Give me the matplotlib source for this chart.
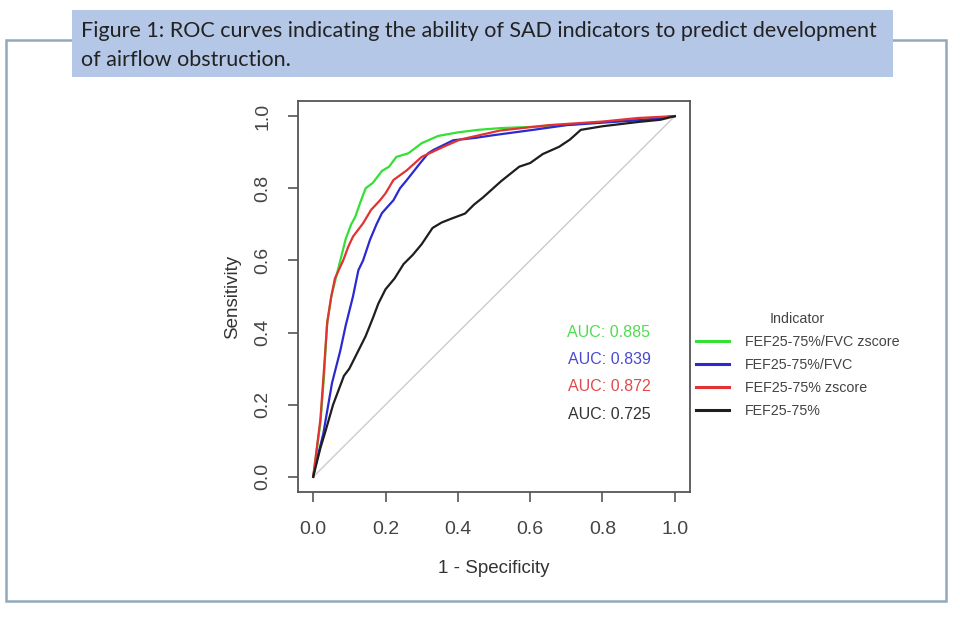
import matplotlib
matplotlib.use('Agg')
import matplotlib.pyplot as plt
from matplotlib.patches import Rectangle

# ROC curve points (1 - specificity, sensitivity)
fpr_fvc_z = [0, 0.01, 0.02, 0.03, 0.038, 0.05, 0.075, 0.09, 0.105, 0.116, 0.13, 0.145, 0.165,
             0.19, 0.21, 0.23, 0.263, 0.3, 0.345, 0.4, 0.456, 0.52, 0.65, 0.79, 0.9, 1.0]
tpr_fvc_z = [0, 0.075, 0.15, 0.28, 0.42, 0.5, 0.6, 0.66, 0.7, 0.72, 0.76, 0.8, 0.815,
             0.848, 0.86, 0.887, 0.897, 0.925, 0.945, 0.955, 0.962, 0.967, 0.972, 0.983, 0.99, 1.0]

fpr_fvc = [0, 0.006, 0.028, 0.052, 0.075, 0.09, 0.11, 0.125, 0.138, 0.157, 0.175, 0.19, 0.222,
           0.24, 0.259, 0.296, 0.318, 0.332, 0.387, 0.45, 0.497, 0.608, 0.7, 0.83, 0.92, 1.0]
tpr_fvc = [0, 0.03, 0.12, 0.26, 0.35, 0.42, 0.5, 0.573, 0.6, 0.657, 0.7, 0.731, 0.767,
           0.8, 0.823, 0.87, 0.897, 0.906, 0.933, 0.94, 0.947, 0.962, 0.975, 0.984, 0.99, 1.0]

fpr_z = [0, 0.01, 0.02, 0.03, 0.039, 0.05, 0.06, 0.083, 0.097, 0.11, 0.138, 0.16, 0.185,
         0.2, 0.222, 0.259, 0.3, 0.36, 0.406, 0.516, 0.65, 0.8, 0.9, 1.0]
tpr_z = [0, 0.08, 0.16, 0.3, 0.43, 0.5, 0.55, 0.6, 0.638, 0.666, 0.703, 0.74, 0.767,
         0.786, 0.823, 0.85, 0.887, 0.915, 0.935, 0.96, 0.975, 0.985, 0.995, 1.0]

fpr_raw = [0, 0.02, 0.035, 0.055, 0.07, 0.085, 0.1, 0.125, 0.145, 0.165, 0.18, 0.2, 0.225,
           0.25, 0.275, 0.3, 0.33, 0.355, 0.38, 0.42, 0.445, 0.47, 0.52, 0.57, 0.6, 0.635,
           0.68, 0.71, 0.74, 0.8, 0.9, 0.96, 1.0]
tpr_raw = [0, 0.08, 0.13, 0.2, 0.24, 0.28, 0.3, 0.35, 0.39, 0.44, 0.48, 0.52, 0.55,
           0.59, 0.615, 0.645, 0.69, 0.705, 0.715, 0.73, 0.755, 0.775, 0.82, 0.86, 0.87, 0.895,
           0.915, 0.935, 0.962, 0.972, 0.984, 0.99, 1.0]

labels = ['FEF25-75%/FVC zscore', 'FEF25-75%/FVC', 'FEF25-75% zscore', 'FEF25-75%']
aucs = [0.885, 0.839, 0.872, 0.725]
line_colors = ['#33e033', '#2a2ad0', '#e23232', '#1e1e1e']
text_colors = ['#4fdc4f', '#4a4ad0', '#e04a4a', '#333333']

fig = plt.figure(figsize=(9.6, 6.17), dpi=100)
W, H = 960, 617

def fx(px):
    return px / W

def fy(py):
    return 1 - py / H

# outer frame and caption box
fig.patches.append(Rectangle((fx(6), fy(601)), fx(946) - fx(6), fy(40) - fy(601),
                             transform=fig.transFigure, fill=False,
                             edgecolor='#93a8b8', linewidth=1.8, zorder=0))
fig.patches.append(Rectangle((fx(72), fy(77)), fx(893) - fx(72), fy(10) - fy(77),
                             transform=fig.transFigure, facecolor='#b4c7e7',
                             edgecolor='none', zorder=1))
fig.text(fx(81), fy(31), 'Figure 1: ROC curves indicating the ability of SAD indicators to predict development',
         fontsize=15.5, family='Lato', color='#222222', va='center', ha='left', zorder=2)
fig.text(fx(81), fy(60), 'of airflow obstruction.',
         fontsize=15.5, family='Lato', color='#222222', va='center', ha='left', zorder=2)

ax = fig.add_axes([fx(298), fy(492), fx(690) - fx(298), fy(101) - fy(492)])
ax.set_xlim(-0.042, 1.042)
ax.set_ylim(-0.042, 1.042)

ax.plot([0, 1], [0, 1], color='#cccccc', linewidth=1.0)

curves = [(fpr_fvc_z, tpr_fvc_z), (fpr_fvc, tpr_fvc), (fpr_z, tpr_z), (fpr_raw, tpr_raw)]
handles = []
for (xs, ys), col, lab in zip(curves, line_colors, labels):
    h, = ax.plot(xs, ys, color=col, linewidth=1.6, label=lab)
    handles.append(h)

# AUC annotations
auc_y = [0.399, 0.324, 0.25, 0.172]
for a, yy, col in zip(aucs, auc_y, text_colors):
    ax.text(0.818, yy, f'AUC: {a:.3f}', color=col, fontsize=11.5, ha='center', va='center',
            family='Liberation Sans')

ticks = [0.0, 0.2, 0.4, 0.6, 0.8, 1.0]
ax.set_xticks(ticks)
ax.set_yticks(ticks)
ax.set_xticklabels([f'{t:.1f}' for t in ticks])
ax.set_yticklabels([f'{t:.1f}' for t in ticks], rotation=90, va='center')
ax.tick_params(axis='both', colors='#555555', labelcolor='#444444', length=7, width=1.2,
               labelsize=14)
ax.tick_params(axis='x', pad=14)
ax.tick_params(axis='y', pad=12)
for lab in ax.get_xticklabels() + ax.get_yticklabels():
    lab.set_family('Liberation Sans')
for s in ax.spines.values():
    s.set_color('#555555')
    s.set_linewidth(1.3)

ax.set_xlabel('1 - Specificity', fontsize=13.5, color='#333333', family='Liberation Sans',
              labelpad=16)
ax.set_ylabel('Sensitivity', fontsize=13.5, color='#333333', family='Liberation Sans',
              labelpad=10)

leg = fig.legend(handles=handles, labels=labels, title='Indicator', loc='upper left',
                 bbox_to_anchor=(fx(686), fy(302)), frameon=False, fontsize=10.3,
                 title_fontsize=10.3, handlelength=2.3, handletextpad=1.1,
                 labelspacing=0.63, borderpad=0.2,
                 prop={'family': 'Liberation Sans', 'size': 10.3})
leg.get_title().set_color('#444444')
leg.get_title().set_family('Liberation Sans')
for t in leg.get_texts():
    t.set_color('#444444')
for l in leg.get_lines():
    l.set_linewidth(2.2)

fig.savefig('out.png', dpi=100)
